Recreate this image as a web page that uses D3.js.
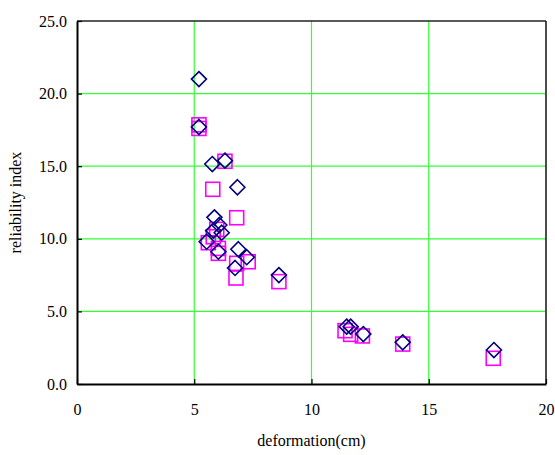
<!DOCTYPE html>
<html>
<head>
<meta charset="utf-8">
<script src="https://cdn.jsdelivr.net/npm/d3@7"></script>
<style>
  body { margin: 0; background: #fff; }
  text { font-family: "Liberation Serif", "Times New Roman", serif; fill: #000; }
</style>
</head>
<body>
<div id="chart"></div>
<script>
// series 1: diamonds (navy)
var diamondX = [5.20, 5.20, 5.77, 6.31, 6.84, 5.86, 6.07, 6.17, 5.81, 5.53, 6.03, 6.88, 7.24, 6.74, 8.61, 11.50, 11.67, 12.21, 13.89, 17.78];
var diamondY = [21.0, 17.7, 15.15, 15.38, 13.55, 11.48, 10.95, 10.42, 10.56, 9.80, 9.11, 9.28, 8.73, 7.99, 7.50, 3.95, 3.95, 3.44, 2.87, 2.34];
// series 2: squares (magenta)
var squareX = [5.20, 5.20, 6.31, 5.79, 6.81, 5.96, 5.60, 5.81, 6.03, 6.03, 6.81, 7.30, 6.78, 8.61, 11.43, 11.67, 12.17, 13.89, 17.75];
var squareY = [17.85, 17.6, 15.34, 13.41, 11.45, 10.65, 9.73, 10.14, 9.34, 9.00, 8.31, 8.42, 7.30, 7.05, 3.67, 3.42, 3.31, 2.75, 1.77];

var xTicks = [0, 5, 10, 15, 20];
var yTicks = [0, 5, 10, 15, 20, 25];

var margin = {top: 21, right: 9, bottom: 71, left: 77};
var width = 555 - margin.left - margin.right;
var height = 455 - margin.top - margin.bottom;

var svg = d3.select("#chart")
  .append("svg")
  .attr("width", 555)
  .attr("height", 455)
  .append("g")
  .attr("transform", "translate(" + margin.left + "," + margin.top + ")");

var x = d3.scaleLinear().domain([0, 20]).range([0, width]);
var y = d3.scaleLinear().domain([0, 25]).range([height, 0]);

// grid lines
svg.append("g").selectAll("line")
  .data(xTicks.slice(1, -1))
  .enter().append("line")
  .attr("x1", function(d) { return x(d); })
  .attr("x2", function(d) { return x(d); })
  .attr("y1", 0).attr("y2", height)
  .attr("stroke", "#33ff33").attr("stroke-width", 1.2);

svg.append("g").selectAll("line")
  .data(yTicks.slice(1, -1))
  .enter().append("line")
  .attr("y1", function(d) { return y(d); })
  .attr("y2", function(d) { return y(d); })
  .attr("x1", 0).attr("x2", width)
  .attr("stroke", "#33ff33").attr("stroke-width", 1.2);

// frame (top and right)
svg.append("line").attr("x1", 0).attr("x2", width).attr("y1", 0).attr("y2", 0)
  .attr("stroke", "#222").attr("stroke-width", 1.5);
svg.append("line").attr("x1", width).attr("x2", width).attr("y1", 0).attr("y2", height)
  .attr("stroke", "#111").attr("stroke-width", 1.5);

// axes
var xAxis = svg.append("g")
  .attr("transform", "translate(0," + height + ")")
  .call(d3.axisBottom(x).tickValues(xTicks).tickSizeInner(-5).tickSizeOuter(0).tickPadding(20));
var yAxis = svg.append("g")
  .call(d3.axisLeft(y).tickValues(yTicks).tickFormat(d3.format(".1f")).tickSizeInner(-5).tickSizeOuter(0).tickPadding(10));

[xAxis, yAxis].forEach(function(a) {
  a.select(".domain").attr("stroke", "#000").attr("stroke-width", 2);
  a.selectAll(".tick line").attr("stroke", "#000").attr("stroke-width", 1.2);
  a.selectAll("text").style("font-size", "16px").style("font-family", "'Liberation Serif', serif").attr("fill", "#000");
});

// axis titles
svg.append("text")
  .attr("x", width / 2)
  .attr("y", height + 62)
  .attr("text-anchor", "middle")
  .style("font-size", "16px")
  .text("deformation(cm)");

svg.append("text")
  .attr("transform", "translate(" + (-56) + "," + (height / 2) + ") rotate(-90)")
  .attr("text-anchor", "middle")
  .style("font-size", "16px")
  .text("reliability index");

// squares
var sq = 7;
svg.append("g").selectAll("rect")
  .data(squareX)
  .enter().append("rect")
  .attr("x", function(d) { return x(d) - sq; })
  .attr("y", function(d, i) { return y(squareY[i]) - sq; })
  .attr("width", sq * 2)
  .attr("height", sq * 2)
  .attr("fill", "none")
  .attr("stroke", "#ff00ff")
  .attr("stroke-width", 1.6);

// diamonds
var dm = 7.5;
svg.append("g").selectAll("path")
  .data(diamondX)
  .enter().append("path")
  .attr("d", function(d, i) {
    var cx = x(d), cy = y(diamondY[i]);
    return "M" + cx + "," + (cy - dm) + "L" + (cx + dm) + "," + cy +
      "L" + cx + "," + (cy + dm) + "L" + (cx - dm) + "," + cy + "Z";
  })
  .attr("fill", "none")
  .attr("stroke", "#000080")
  .attr("stroke-width", 1.6);
</script>
</body>
</html>
